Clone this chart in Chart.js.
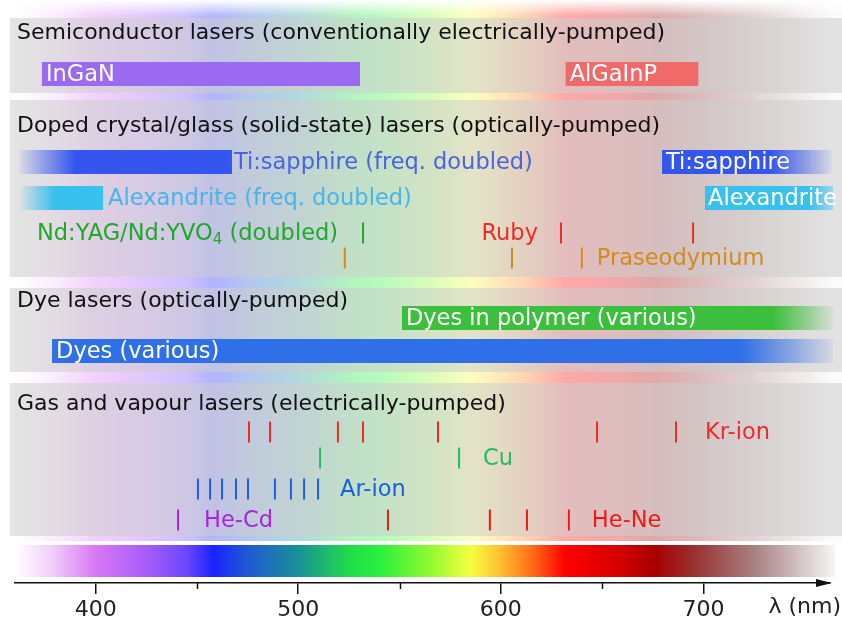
<!DOCTYPE html>
<html>
<head>
<meta charset="utf-8">
<script src="https://cdn.jsdelivr.net/npm/chart.js@4.4.1/dist/chart.umd.min.js"></script>
<style>
  html, body { margin: 0; padding: 0; background: #fff; }
  #wrap { width: 842px; height: 623px; }
</style>
</head>
<body>
<div id="wrap"><canvas id="laserChart" width="842" height="623"></canvas></div>
<script>
// wavelengths in nm
const panelTitles = [
    'Semiconductor lasers (conventionally electrically-pumped)',
    'Doped crystal/glass (solid-state) lasers (optically-pumped)',
    'Dye lasers (optically-pumped)',
    'Gas and vapour lasers (electrically-pumped)'
];
const semiconductorNames = ['InGaN', 'AlGaInP'];
const semiconductorRanges = [[373.5, 530.5], [632, 697.5]];
const solidStateNames = ['Ti:sapphire (freq. doubled)', 'Ti:sapphire', 'Alexandrite (freq. doubled)', 'Alexandrite'];
const solidStateRanges = [[362.5, 467.3], [679.6, 763.4], [363, 403.7], [700.8, 764]];
const dyeNames = ['Dyes in polymer (various)', 'Dyes (various)'];
const dyeRanges = [[551.2, 764], [378.5, 764]];
const lineGroupNames = ['Nd:YAG/Nd:YVO4 (doubled)', 'Ruby', 'Praseodymium', 'Kr-ion', 'Cu', 'Ar-ion', 'He-Cd', 'He-Ne'];
const ndYagLines = [532];
const rubyLines = [629.7, 694.9];
const praseodymiumLines = [523, 605.5, 640];
const krIonLines = [475.7, 486.1, 519.6, 532, 569, 647.5, 686.5];
const cuLines = [510.8, 579.4];
const arIonLines = [450.5, 456.5, 462.4, 469.3, 475.2, 488.5, 496.4, 502.9, 509.8];
const heCdLines = [440.7];
const heNeLines = [544.3, 594.6, 612.9, 633.6];
const majorTicks = [400, 500, 600, 700];
const minorTicks = [450, 550, 650];

const FONT = '"DejaVu Sans", Verdana, sans-serif';
Chart.defaults.font.family = FONT;

// colour stops of the visible spectrum (nm -> colour)
const spectrumStops = [
    [360, '#ffffff'], [378, '#f2d0fa'], [400, '#d878f5'], [425, '#a85cfa'], [445, '#6a48ff'],
    [458, '#1a22ff'], [475, '#1f5ad0'], [500, '#1a9098'], [525, '#20dc48'], [540, '#28f040'],
    [565, '#90fa30'], [585, '#f4ff40'], [600, '#ffbe30'], [615, '#ff6e18'], [632, '#ff0000'],
    [660, '#d20000'], [676, '#a80000'], [695, '#983030'], [725, '#a88080'], [764, '#f4f4f4']
];

function spectrumGradient(c, xs) {
    const lo = spectrumStops[0][0], hi = spectrumStops[spectrumStops.length - 1][0];
    const g = c.createLinearGradient(xs.getPixelForValue(lo), 0, xs.getPixelForValue(hi), 0);
    spectrumStops.forEach(([l, col]) => g.addColorStop((l - lo) / (hi - lo), col));
    return g;
}

// bar colour that fades out between two wavelengths
function fade(color, solidAt, clearAt) {
    return function(ctx) {
        const chart = ctx.chart;
        const xs = chart.scales.x;
        if (!chart.chartArea || !xs) return color;
        const g = chart.ctx.createLinearGradient(xs.getPixelForValue(solidAt), 0, xs.getPixelForValue(clearAt), 0);
        g.addColorStop(0, color);
        g.addColorStop(1, color + '10');
        return g;
    };
}

const datasets = [];
function addBar(range, row, color) {
    datasets.push({
        type: 'line',
        data: [{ x: range[0], y: row }, { x: range[1], y: row }],
        borderColor: color,
        borderWidth: 24,
        borderCapStyle: 'butt',
        pointRadius: 0,
        clip: false
    });
}
function addLines(values, row, color) {
    datasets.push({
        type: 'scatter',
        data: values.map(v => ({ x: v, y: row })),
        pointStyle: 'line',
        pointRotation: 90,
        pointRadius: 10.5,
        pointHoverRadius: 10.5,
        pointBorderColor: color,
        pointBorderWidth: 2,
        borderColor: color,
        clip: false
    });
}

// semiconductor
addBar(semiconductorRanges[0], 74, '#9a6af0');
addBar(semiconductorRanges[1], 74, '#f06a6a');
// solid state
addBar(solidStateRanges[0], 162, fade('#3456ee', 390, solidStateRanges[0][0]));
addBar(solidStateRanges[1], 162, fade('#3456ee', 733, solidStateRanges[1][1]));
addBar(solidStateRanges[2], 198, fade('#38c0ee', 380, solidStateRanges[2][0]));
addBar(solidStateRanges[3], 198, fade('#38c0ee', 752, solidStateRanges[3][1] + 6));
addLines(ndYagLines, 233, '#1fa82a');
addLines(rubyLines, 233, '#ee2a2a');
addLines(praseodymiumLines, 258, '#d38a1f');
// dyes
addBar(dyeRanges[0], 318, fade('#3cbf3c', 734, dyeRanges[0][1]));
addBar(dyeRanges[1], 351, fade('#2f6fe8', 718, dyeRanges[1][1]));
// gas
addLines(krIonLines, 432, '#ee2a2a');
addLines(cuLines, 458, '#22bb66');
addLines(arIonLines, 489, '#1a5fdd');
addLines(heCdLines, 520, '#aa22dd');
addLines(heNeLines, 520, '#ee1a1a');

const last = arr => arr[arr.length - 1];
const labels = [
    { text: semiconductorNames[0], x: semiconductorRanges[0][0], y: 74, dx: 4, color: '#fff' },
    { text: semiconductorNames[1], x: semiconductorRanges[1][0], y: 74, dx: 4, color: '#fff' },
    { text: solidStateNames[0], x: solidStateRanges[0][1], y: 162, dx: 2, color: '#4a64e0' },
    { text: solidStateNames[1], x: solidStateRanges[1][0], y: 162, dx: 4, color: '#fff' },
    { text: solidStateNames[2], x: solidStateRanges[2][1], y: 198, dx: 5, color: '#48b4ea' },
    { text: solidStateNames[3], x: solidStateRanges[3][0], y: 198, dx: 3, color: '#fff' },
    { text: lineGroupNames[0], x: ndYagLines[0], y: 233, dx: -25, color: '#1fa82a', align: 'right', sub: true },
    { text: lineGroupNames[1], x: rubyLines[0], y: 233, dx: -23, color: '#ee2a2a', align: 'right' },
    { text: lineGroupNames[2], x: last(praseodymiumLines), y: 258, dx: 15, color: '#d38a1f' },
    { text: dyeNames[0], x: dyeRanges[0][0], y: 318, dx: 4, color: '#fff' },
    { text: dyeNames[1], x: dyeRanges[1][0], y: 351, dx: 4, color: '#fff' },
    { text: lineGroupNames[3], x: last(krIonLines), y: 432, dx: 29, color: '#ee2a2a' },
    { text: lineGroupNames[4], x: last(cuLines), y: 458, dx: 24, color: '#22bb66' },
    { text: lineGroupNames[5], x: last(arIonLines), y: 489, dx: 22, color: '#1a5fdd' },
    { text: lineGroupNames[6], x: last(heCdLines), y: 520, dx: 26, color: '#aa22dd' },
    { text: lineGroupNames[7], x: last(heNeLines), y: 520, dx: 23, color: '#ee1a1a' }
];

// panel boxes (top, bottom) and title rows
const panels = [[18, 93], [100, 277], [288, 372], [383, 536]];
const titleRows = [33, 126, 301, 404];
const LABEL_FONT = '22.5px ' + FONT;
const TEXT_NUDGE = 1.5; // 'middle' baseline sits a bit high for DejaVu

const backdrop = {
    id: 'backdrop',
    beforeDraw(chart) {
        const c = chart.ctx, xs = chart.scales.x, ys = chart.scales.y;
        c.save();
        // faint spectrum behind everything
        c.fillStyle = spectrumGradient(c, xs);
        c.globalAlpha = 0.34;
        c.fillRect(0, 0, chart.width, ys.getPixelForValue(541));
        c.globalAlpha = 1;
        const top = c.createLinearGradient(0, 0, 0, 16);
        top.addColorStop(0, 'rgba(255,255,255,1)');
        top.addColorStop(1, 'rgba(255,255,255,0)');
        c.fillStyle = top;
        c.fillRect(0, 0, chart.width, 16);
        // grey panels
        c.fillStyle = 'rgba(205,205,205,0.55)';
        panels.forEach(([a, b]) => {
            const y0 = ys.getPixelForValue(a), y1 = ys.getPixelForValue(b);
            c.fillRect(10, y0, chart.width - 10, y1 - y0);
        });
        // spectrum strip
        c.fillStyle = spectrumGradient(c, xs);
        const s0 = ys.getPixelForValue(545), s1 = ys.getPixelForValue(577);
        c.fillRect(xs.left, s0, xs.getPixelForValue(765) - xs.left, s1 - s0);
        c.restore();
    },
    afterDatasetsDraw(chart) {
        const c = chart.ctx, xs = chart.scales.x, ys = chart.scales.y;
        c.save();
        c.textBaseline = 'middle';
        // panel titles
        c.font = '22px ' + FONT;
        c.fillStyle = '#111';
        c.textAlign = 'left';
        panelTitles.forEach((t, i) => c.fillText(t, 17, ys.getPixelForValue(titleRows[i])));
        // labels
        labels.forEach(l => {
            const x = xs.getPixelForValue(l.x) + l.dx;
            const y = ys.getPixelForValue(l.y) + TEXT_NUDGE;
            c.fillStyle = l.color;
            c.font = LABEL_FONT;
            if (l.sub) {
                // Nd:YVO4 with subscript 4
                const parts = l.text.split('4');
                const w0 = c.measureText(parts[0]).width;
                const w2 = c.measureText(parts[1]).width;
                c.font = '15px ' + FONT;
                const w1 = c.measureText('4').width;
                const x0 = x - (w0 + w1 + w2);
                c.textAlign = 'left';
                c.font = LABEL_FONT;
                c.fillText(parts[0], x0, y);
                c.font = '15px ' + FONT;
                c.fillText('4', x0 + w0, y + 6);
                c.font = LABEL_FONT;
                c.fillText(parts[1], x0 + w0 + w1, y);
            } else {
                c.textAlign = l.align || 'left';
                c.fillText(l.text, x, y);
            }
        });
        c.restore();
    },
    afterDraw(chart) {
        const c = chart.ctx, xs = chart.scales.x;
        const yAxis = chart.chartArea.bottom;
        c.save();
        c.strokeStyle = '#111';
        c.lineWidth = 1.5;
        // minor ticks
        minorTicks.forEach(v => {
            const x = Math.round(xs.getPixelForValue(v)) + 0.5;
            c.beginPath();
            c.moveTo(x, yAxis);
            c.lineTo(x, yAxis + 6);
            c.stroke();
        });
        // arrow head
        c.fillStyle = '#111';
        c.beginPath();
        c.moveTo(xs.right + 2, yAxis);
        c.lineTo(xs.right - 14, yAxis - 4);
        c.lineTo(xs.right - 14, yAxis + 4);
        c.closePath();
        c.fill();
        // axis name
        c.font = '22px ' + FONT;
        c.textAlign = 'right';
        c.textBaseline = 'middle';
        c.fillStyle = '#222';
        c.fillText('\u03bb (nm)', 841, 607);
        c.restore();
    }
};

new Chart(document.getElementById('laserChart'), {
    type: 'line',
    data: { datasets: datasets },
    options: {
        responsive: false,
        animation: false,
        events: [],
        layout: { autoPadding: false, padding: { left: 15, right: 12, top: 0, bottom: 0 } },
        plugins: { legend: { display: false }, tooltip: { enabled: false } },
        scales: {
            x: {
                type: 'linear',
                min: 360.2,
                max: 762.5,
                afterBuildTicks: s => { s.ticks = majorTicks.map(v => ({ value: v })); },
                afterFit: s => { s.height = 40; },
                ticks: { font: { size: 22 }, color: '#222', padding: 3, maxRotation: 0, autoSkip: false },
                grid: { drawOnChartArea: false, tickLength: 11, color: '#111', lineWidth: 1.5 },
                border: { color: '#111', width: 1.5 }
            },
            y: {
                type: 'linear',
                min: 0,
                max: 583,
                reverse: true,
                display: false
            }
        }
    },
    plugins: [backdrop]
});
</script>
</body>
</html>
